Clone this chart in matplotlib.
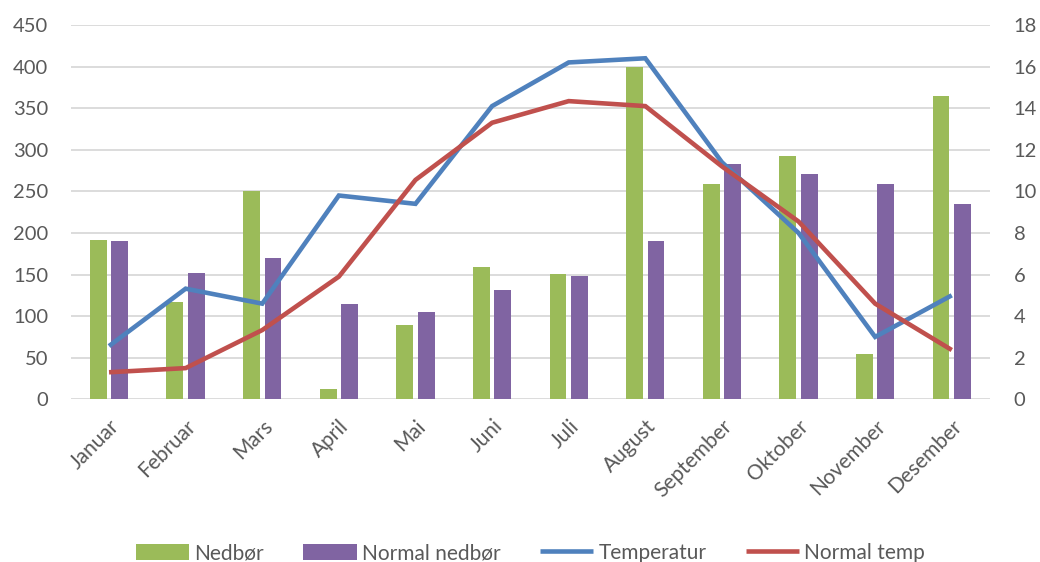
import matplotlib
matplotlib.use("Agg")
import matplotlib.pyplot as plt
import numpy as np

plt.rcParams['font.family'] = ['Lato', 'DejaVu Sans']

months = ["Januar", "Februar", "Mars", "April", "Mai", "Juni", "Juli",
          "August", "September", "Oktober", "November", "Desember"]
nedbor = [191, 117, 250, 12, 89, 159, 151, 399, 259, 293, 55, 365]
normal_nedbor = [190, 152, 170, 114, 105, 131, 148, 190, 283, 271, 259, 235]
temperatur = [2.56, 5.32, 4.6, 9.8, 9.4, 14.1, 16.2, 16.4, 11.4, 8.0, 3.0, 5.0]
normal_temp = [1.3, 1.5, 3.33, 5.9, 10.55, 13.3, 14.34, 14.1, 11.2, 8.55, 4.6, 2.37]

green = "#9BBB59"
purple = "#8064A2"
blue = "#4F81BD"
red = "#C0504D"
grid_c = "#D9D9D9"
text_c = "#595959"

fig = plt.figure(figsize=(10.40, 5.62), dpi=100)
ax = fig.add_axes([0.068, 0.2895, 0.884, 0.666])
ax2 = ax.twinx()

x = np.arange(len(months))
w = 0.22
off = 0.14
ax.bar(x - off, nedbor, w, color=green, label="Nedbør", zorder=2)
ax.bar(x + off, normal_nedbor, w, color=purple, label="Normal nedbør", zorder=2)

ax2.plot(x, temperatur, color=blue, lw=3.3, label="Temperatur",
         solid_joinstyle="miter", solid_capstyle="butt")
ax2.plot(x, normal_temp, color=red, lw=3.3, label="Normal temp",
         solid_joinstyle="miter", solid_capstyle="butt")

ax.set_xlim(-0.5, 11.5)
ax.set_ylim(0, 450)
ax.set_yticks(np.arange(0, 451, 50))
ax2.set_ylim(0, 18)
ax2.set_yticks(np.arange(0, 19, 2))

ax.yaxis.grid(True, color=grid_c, lw=1.3, zorder=0)
ax.set_axisbelow(True)

for a in (ax, ax2):
    for s in a.spines.values():
        s.set_visible(False)
    a.tick_params(axis="y", length=0, labelsize=14.5, labelcolor=text_c)
ax.tick_params(axis="y", pad=16)
ax2.tick_params(axis="y", pad=17)
ax.tick_params(axis="x", length=0, labelsize=15, labelcolor=text_c, pad=12)
ax.set_xticks(x)
ax.set_xticklabels(months, rotation=45, ha="right", rotation_mode="anchor")

h1, l1 = ax.get_legend_handles_labels()
h2, l2 = ax2.get_legend_handles_labels()
fig.legend(h1 + h2, l1 + l2, loc="center", bbox_to_anchor=(0.51, 0.016),
           ncol=4, frameon=False, fontsize=15, labelcolor=text_c,
           handlelength=2.55, handleheight=0.8, handletextpad=0.25,
           columnspacing=1.9)

fig.savefig("out.png", dpi=100)
